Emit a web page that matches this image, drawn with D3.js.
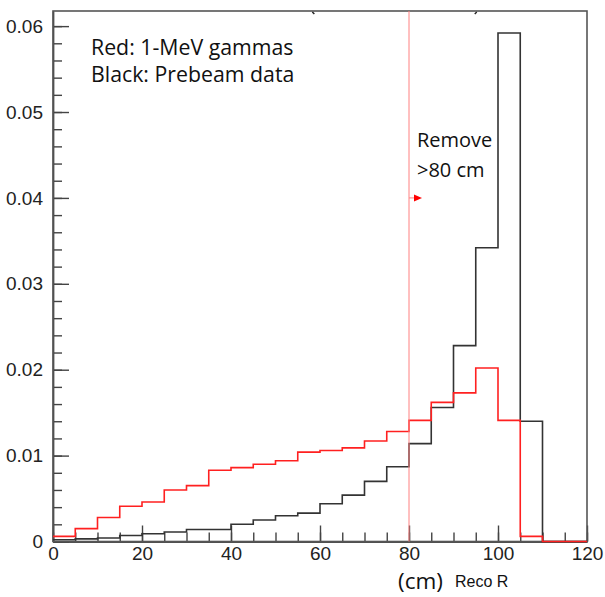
<!DOCTYPE html>
<html>
<head>
<meta charset="utf-8">
<script src="https://cdn.jsdelivr.net/npm/d3@7"></script>
<style>
  body { margin: 0; background: #fff; }
  .tick text { font-family: "Liberation Sans", Arial, sans-serif; font-size: 19px; fill: #222; }
  .axis path, .axis line { stroke: #444; stroke-width: 1.4; }
</style>
</head>
<body>
<script>
// bins of Reco R (cm), lower edges
var binLow = [0, 5, 10, 15, 20, 25, 30, 35, 40, 45, 50, 55, 60, 65, 70, 75, 80, 85, 90, 95, 100, 105, 110, 115];
var binWidth = 5;

// Red: 1-MeV gammas
var gammas = [0.0006, 0.0015, 0.0028, 0.0041, 0.0046, 0.0060, 0.0065, 0.0083, 0.0086, 0.0090, 0.0094, 0.0104,
              0.0106, 0.0109, 0.0117, 0.0128, 0.0141, 0.0162, 0.0173, 0.0202, 0.0141, 0.0006, 0, 0];
// Black: Prebeam data
var prebeam = [0.0002, 0.0003, 0.0004, 0.0007, 0.0009, 0.0011, 0.0014, 0.0014, 0.0020, 0.0025, 0.0030, 0.0033,
               0.0044, 0.0054, 0.0070, 0.0087, 0.0114, 0.0156, 0.0228, 0.0342, 0.0592, 0.0140, 0, 0];

var xMajor = [0, 20, 40, 60, 80, 100, 120];
var yMajor = [0, 0.01, 0.02, 0.03, 0.04, 0.05, 0.06];
var cut = 80;

// set the dimensions and margins of the graph
var margin = {top: 11, right: 18, bottom: 55.5, left: 53},
    width = 605 - margin.left - margin.right,
    height = 597 - margin.top - margin.bottom;

var svg = d3.select("body").append("svg")
    .attr("width", 605)
    .attr("height", 597)
  .append("g")
    .attr("transform", "translate(" + margin.left + "," + margin.top + ")");

var x = d3.scaleLinear().domain([0, 120]).range([0, width]);
var y = d3.scaleLinear().domain([0, 0.06176]).range([height, 0]);

// minor ticks
svg.append("g")
    .attr("class", "axis")
    .attr("transform", "translate(0," + height + ")")
    .call(d3.axisBottom(x).tickValues(d3.range(0, 121, 5)).tickSizeInner(-9).tickSizeOuter(0).tickFormat(""));
svg.append("g")
    .attr("class", "axis")
    .call(d3.axisLeft(y).tickValues(d3.range(0, 0.0601, 0.002)).tickSizeInner(-9).tickSizeOuter(0).tickFormat(""));

// major ticks
svg.append("g")
    .attr("class", "axis")
    .attr("transform", "translate(0," + height + ")")
    .call(d3.axisBottom(x).tickValues(xMajor).tickSizeInner(-16).tickSizeOuter(0).tickPadding(5));
svg.append("g")
    .attr("class", "axis")
    .call(d3.axisLeft(y).tickValues(yMajor).tickSizeInner(-16).tickSizeOuter(0).tickPadding(10)
      .tickFormat(function(d) { return d === 0 ? "0" : d3.format(".2f")(d); }));

// frame
svg.append("rect")
    .attr("width", width)
    .attr("height", height)
    .attr("fill", "none")
    .attr("stroke", "#555")
    .attr("stroke-width", 1.6);

// step outline for a histogram
function steps(vals) {
  var pts = binLow.map(function(lo, i) { return [lo, vals[i]]; });
  pts.push([binLow[binLow.length - 1] + binWidth, vals[vals.length - 1]]);
  return pts;
}
var stepline = d3.line()
    .x(function(d) { return x(d[0]); })
    .y(function(d) { return y(d[1]); })
    .curve(d3.curveStepAfter);

svg.append("path")
    .datum(steps(prebeam))
    .attr("fill", "none")
    .attr("stroke", "#333")
    .attr("stroke-width", 1.6)
    .attr("d", stepline);

svg.append("path")
    .datum(steps(gammas))
    .attr("fill", "none")
    .attr("stroke", "#ff2020")
    .attr("stroke-width", 1.6)
    .attr("d", stepline);

// cut line and arrow
svg.append("line")
    .attr("x1", x(cut)).attr("x2", x(cut))
    .attr("y1", 0).attr("y2", height)
    .attr("stroke", "#ff8080")
    .attr("stroke-width", 1);
svg.append("line")
    .attr("x1", x(cut)).attr("x2", x(cut) + 6)
    .attr("y1", y(0.04)).attr("y2", y(0.04))
    .attr("stroke", "#ff8080")
    .attr("stroke-width", 1);
svg.append("path")
    .attr("d", "M" + (x(cut) + 5) + "," + (y(0.04) - 3.5) + "L" + (x(cut) + 13) + "," + y(0.04) + "L" + (x(cut) + 5) + "," + (y(0.04) + 3.5) + "Z")
    .attr("fill", "#ff0000");

// bits of the clipped title on the top edge
svg.append("path")
    .attr("d", "M" + (x(58.5) - 1) + ",1L" + (x(58.5) + 1) + ",3")
    .attr("stroke", "#222").attr("stroke-width", 1.5);
svg.append("path")
    .attr("d", "M" + (x(95) + 1) + ",1L" + (x(95) - 1) + ",3")
    .attr("stroke", "#222").attr("stroke-width", 1.5);

// texts
var note = svg.append("g")
    .attr("font-family", "'Open Sans', sans-serif")
    .attr("fill", "#111");
note.append("text").attr("x", 38).attr("y", 44).attr("font-size", 21.3).text("Red: 1-MeV gammas");
note.append("text").attr("x", 38).attr("y", 71).attr("font-size", 21.3).text("Black: Prebeam data");
note.append("text").attr("x", 364).attr("y", 136).attr("font-size", 20).text("Remove");
note.append("text").attr("x", 364).attr("y", 166).attr("font-size", 20).text(">80 cm");

svg.append("text")
    .attr("x", 345).attr("y", 588.5 - margin.top)
    .attr("font-family", "'Open Sans', sans-serif")
    .attr("font-size", 22.5)
    .attr("fill", "#111")
    .text("(cm)");
svg.append("text")
    .attr("x", 402).attr("y", 587 - margin.top)
    .attr("font-family", "'Liberation Sans', Arial, sans-serif")
    .attr("font-size", 16)
    .attr("fill", "#111")
    .text("Reco R");
</script>
</body>
</html>
